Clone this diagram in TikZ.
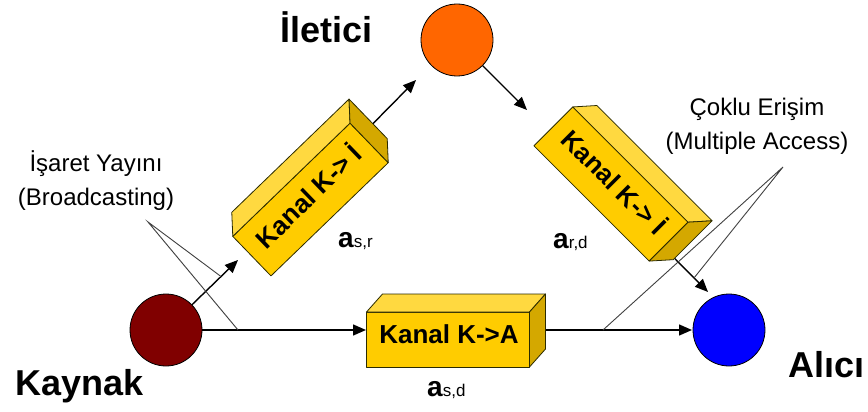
\documentclass[tikz,border=0pt]{standalone}
\usepackage{fontspec}
\setmainfont{Liberation Sans}
\usetikzlibrary{arrows.meta}

\definecolor{kaynakred}{HTML}{800000}
\definecolor{ileticiorange}{HTML}{FF6600}
\definecolor{aliciblue}{HTML}{0000FF}
\definecolor{boxfront}{HTML}{FFCC00}
\definecolor{boxtop}{HTML}{FFD940}
\definecolor{boxside}{HTML}{D4A800}
\definecolor{boxedge}{HTML}{2B2B00}

\tikzset{
  station/.style={circle, draw=black, line width=0.8pt, minimum size=72pt, inner sep=0pt},
  flow/.style={line width=1.4pt, -{Triangle[length=13pt,width=11pt]}},
  callout/.style={draw=black!75, line width=0.9pt},
  bigname/.style={font=\bfseries\fontsize{36}{36}\selectfont, anchor=base west, inner sep=0pt},
  note/.style={font=\fontsize{24}{34}\selectfont, align=center, inner sep=0pt},
  gain/.style={anchor=base west, inner sep=0pt},
  boxface/.style={draw=boxedge, line width=0.8pt, line join=round},
  boxtext/.style={font=\bfseries\fontsize{26}{26}\selectfont, transform shape, inner sep=0pt},
}

% channel gain label: bold "a" with its index on the same baseline
\newcommand\gainlabel[1]{{\bfseries\fontsize{28}{28}\selectfont a}{\fontsize{17}{17}\selectfont #1}}

% 3D channel block: #1 name, #2,#3 centre, #4 rotation, #5 caption
\newcommand\kanalbox[5]{%
  \begin{scope}[shift={(#2,#3)}, rotate=#4]
    \filldraw[boxface, fill=boxfront] (-89.5,-18.5) rectangle (73.5,36.5);
    \filldraw[boxface, fill=boxtop] (-89.5,-18.5) -- (73.5,-18.5) -- (89.5,-36.5) -- (-73.5,-36.5) -- cycle;
    \filldraw[boxface, fill=boxside] (73.5,-18.5) -- (89.5,-36.5) -- (89.5,18.5) -- (73.5,36.5) -- cycle;
    \node[boxtext] (#1) at (-7,4) {#5};
  \end{scope}}

\begin{document}
\begin{tikzpicture}[x=1pt, y=-1pt]
  \useasboundingbox (0,0) rectangle (868,412);

  % stations
  \node[station, fill=kaynakred] (kaynak) at (166,330) {};
  \node[station, fill=ileticiorange] (iletici) at (457,40) {};
  \node[station, fill=aliciblue] (alici) at (729,330) {};

  % arrow ends
  \coordinate (t1) at (238,260);
  \coordinate (s2) at (310,187.5);
  \coordinate (t2) at (416,80);
  \coordinate (t3) at (527,110);
  \coordinate (s4) at (640,223.5);
  \coordinate (t4) at (708,292);
  \coordinate (t5) at (366,330);
  \coordinate (s6) at (456,330);
  \coordinate (t6) at (692,330);

  % arrows that leave a block start underneath it
  \draw[flow] (s2) -- (t2);
  \draw[flow] (s4) -- (t4);
  \draw[flow] (s6) -- (t6);

  \draw[flow] (kaynak) -- (t1);
  \draw[flow] (iletici) -- (t3);
  \draw[flow] (kaynak) -- (t5);

  % channel blocks
  \kanalbox{kanalKI}{310}{187.5}{44}{Kanal K-> İ}
  \kanalbox{kanalIA}{623}{183.3}{-45}{Kanal K-> İ}
  \kanalbox{kanalKA}{456}{330.5}{0}{Kanal K->A}

  % callout lines
  \coordinate (bc) at (148,222);
  \coordinate (bc1) at (221,276.5);
  \coordinate (bc2) at (238,330);
  \draw[callout] (bc1) -- (bc) -- (bc2);
  \coordinate (ma) at (783,167);
  \coordinate (ma1) at (603,330);
  \coordinate (ma2) at (694,278);
  \draw[callout] (ma1) -- (ma) -- (ma2);

  % labels
  \node[bigname] (ileticiname) at (280,43) {İletici};
  \node[bigname] (kaynakname) at (15,395) {Kaynak};
  \node[bigname] (aliciname) at (788,377) {Alıcı};
  \node[note] (broadcast) at (96,181) {İşaret Yayını\\(Broadcasting)};
  \node[note] (multiaccess) at (757,126) {Çoklu Erişim\\(Multiple Access)};
  \node[gain] (asr) at (338,247) {\gainlabel{s,r}};
  \node[gain] (ard) at (553,248) {\gainlabel{r,d}};
  \node[gain] (asd) at (427,396) {\gainlabel{s,d}};
\end{tikzpicture}
\end{document}
